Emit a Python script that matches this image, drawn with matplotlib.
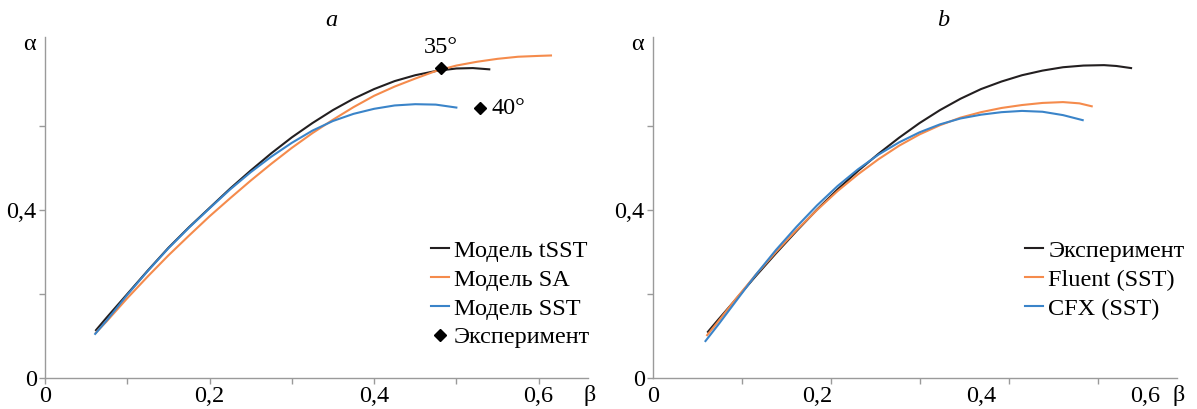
import matplotlib.pyplot as plt
from matplotlib.ticker import FixedLocator, NullFormatter

# panel a: model curves (beta, alpha)
tsst_x = [0.062, 0.075, 0.10, 0.125, 0.15, 0.175, 0.20, 0.225, 0.25, 0.275, 0.30, 0.325,
          0.35, 0.375, 0.40, 0.425, 0.45, 0.475, 0.50, 0.52, 0.54]
tsst_y = [0.114, 0.144, 0.200, 0.256, 0.310, 0.359, 0.405, 0.451, 0.494, 0.535, 0.573, 0.607,
          0.638, 0.665, 0.688, 0.707, 0.721, 0.731, 0.737, 0.738, 0.735]

sa_x = [0.062, 0.075, 0.10, 0.125, 0.15, 0.175, 0.20, 0.225, 0.25, 0.275, 0.30, 0.325,
        0.35, 0.375, 0.40, 0.425, 0.45, 0.475, 0.50, 0.525, 0.55, 0.575, 0.60, 0.615]
sa_y = [0.108, 0.135, 0.190, 0.242, 0.292, 0.339, 0.385, 0.428, 0.470, 0.510, 0.548, 0.583,
        0.615, 0.645, 0.672, 0.694, 0.713, 0.731, 0.744, 0.753, 0.760, 0.765, 0.767, 0.768]

sst_x = [0.061, 0.075, 0.10, 0.125, 0.15, 0.175, 0.20, 0.225, 0.25, 0.275, 0.30, 0.325,
         0.35, 0.375, 0.40, 0.425, 0.45, 0.475, 0.50]
sst_y = [0.105, 0.137, 0.198, 0.255, 0.309, 0.358, 0.404, 0.449, 0.490, 0.527, 0.560, 0.589,
         0.612, 0.629, 0.641, 0.649, 0.652, 0.651, 0.644]

exp_x = [0.481, 0.529]
exp_y = [0.738, 0.642]
exp_labels = ["35°", "40°"]

# panel b
expb_x = [0.067, 0.08, 0.10, 0.125, 0.15, 0.175, 0.20, 0.225, 0.25, 0.275, 0.30, 0.325,
          0.35, 0.375, 0.40, 0.425, 0.45, 0.475, 0.50, 0.525, 0.55, 0.565, 0.583]
expb_y = [0.110, 0.140, 0.185, 0.242, 0.297, 0.350, 0.401, 0.449, 0.493, 0.534, 0.572, 0.607,
          0.638, 0.665, 0.688, 0.706, 0.721, 0.732, 0.740, 0.744, 0.745, 0.743, 0.738]

fluent_x = [0.066, 0.08, 0.10, 0.125, 0.15, 0.175, 0.20, 0.225, 0.25, 0.275, 0.30, 0.325,
            0.35, 0.375, 0.40, 0.425, 0.45, 0.475, 0.50, 0.52, 0.535]
fluent_y = [0.102, 0.136, 0.186, 0.245, 0.300, 0.352, 0.400, 0.445, 0.485, 0.521, 0.553, 0.580,
            0.602, 0.620, 0.633, 0.643, 0.650, 0.655, 0.657, 0.654, 0.647]

cfx_x = [0.064, 0.08, 0.10, 0.125, 0.15, 0.175, 0.20, 0.225, 0.25, 0.275, 0.30, 0.325,
         0.35, 0.375, 0.40, 0.425, 0.45, 0.475, 0.50, 0.524]
cfx_y = [0.088, 0.128, 0.180, 0.245, 0.305, 0.360, 0.411, 0.457, 0.497, 0.532, 0.561, 0.585,
         0.604, 0.618, 0.627, 0.633, 0.636, 0.634, 0.626, 0.614]

labels_a = ["Модель tSST", "Модель SA", "Модель SST", "Эксперимент"]
labels_b = ["Эксперимент", "Fluent (SST)", "CFX (SST)"]

BLACK = "#231f20"
ORANGE = "#f58b4c"
BLUE = "#3a84c9"
GREY = "#9a9a9a"

plt.rcParams["font.family"] = ["Liberation Serif", "DejaVu Serif"]
plt.rcParams["font.size"] = 17.5


def style_axes(ax, xmax, minor_step):
    ax.set_xlim(0, xmax)
    ax.set_ylim(0, 0.812)
    for side in ("top", "right"):
        ax.spines[side].set_visible(False)
    for side in ("left", "bottom"):
        ax.spines[side].set_color(GREY)
        ax.spines[side].set_linewidth(1.0)
    ax.set_xticks([0, 0.2, 0.4, 0.6])
    ax.set_xticklabels(["0", "0,2", "0,4", "0,6"])
    ax.xaxis.set_minor_locator(FixedLocator([minor_step * k for k in range(1, 6)]))
    ax.xaxis.set_minor_formatter(NullFormatter())
    ax.set_yticks([0, 0.2, 0.4, 0.6])
    ax.set_yticklabels(["0", "", "0,4", ""])
    ax.tick_params(axis="both", which="both", direction="out", length=4,
                   color=GREY, width=1.0, pad=2)
    if minor_step != 0.1:
        ax.tick_params(axis="x", which="major", length=0, pad=6)
    ax.text(-0.017, 0.793, "α", transform=ax.get_yaxis_transform(),
            ha="right", va="center")
    ax.text(1.003, -0.05, "β", transform=ax.transAxes, ha="center", va="center")


def add_legend(ax):
    ax.legend(loc="upper left", bbox_to_anchor=(0.71, 0.405), frameon=False,
              handlelength=0.75, handletextpad=0.2, labelspacing=0.28,
              borderaxespad=0, borderpad=0)


fig = plt.figure(figsize=(11.97, 4.09), dpi=100)
ax1 = fig.add_axes([45 / 1197, 31 / 409, 543 / 1197, 341 / 409])
ax2 = fig.add_axes([653 / 1197, 31 / 409, 524 / 1197, 341 / 409])

lw = 1.5
ax1.plot(tsst_x, tsst_y, color=BLACK, lw=lw, label=labels_a[0])
ax1.plot(sa_x, sa_y, color=ORANGE, lw=lw, label=labels_a[1])
ax1.plot(sst_x, sst_y, color=BLUE, lw=lw, label=labels_a[2])
ax1.plot(exp_x, exp_y, "D", color="black", markersize=6.5, ls="none", label=labels_a[3])
ax1.text(exp_x[0], 0.786, exp_labels[0], ha="center", va="center")
ax1.text(exp_x[1] + 0.014, exp_y[1], exp_labels[1], ha="left", va="center")
style_axes(ax1, 0.66, 0.1)
add_legend(ax1)

ax2.plot(expb_x, expb_y, color=BLACK, lw=lw, label=labels_b[0])
ax2.plot(fluent_x, fluent_y, color=ORANGE, lw=lw, label=labels_b[1])
ax2.plot(cfx_x, cfx_y, color=BLUE, lw=lw, label=labels_b[2])
style_axes(ax2, 0.639, 0.1085)
add_legend(ax2)

fig.text(331 / 1197, 1 - 21 / 409, "a", style="italic", ha="center", va="center")
fig.text(943 / 1197, 1 - 21 / 409, "b", style="italic", ha="center", va="center")

fig.savefig("out.png", dpi=100)
